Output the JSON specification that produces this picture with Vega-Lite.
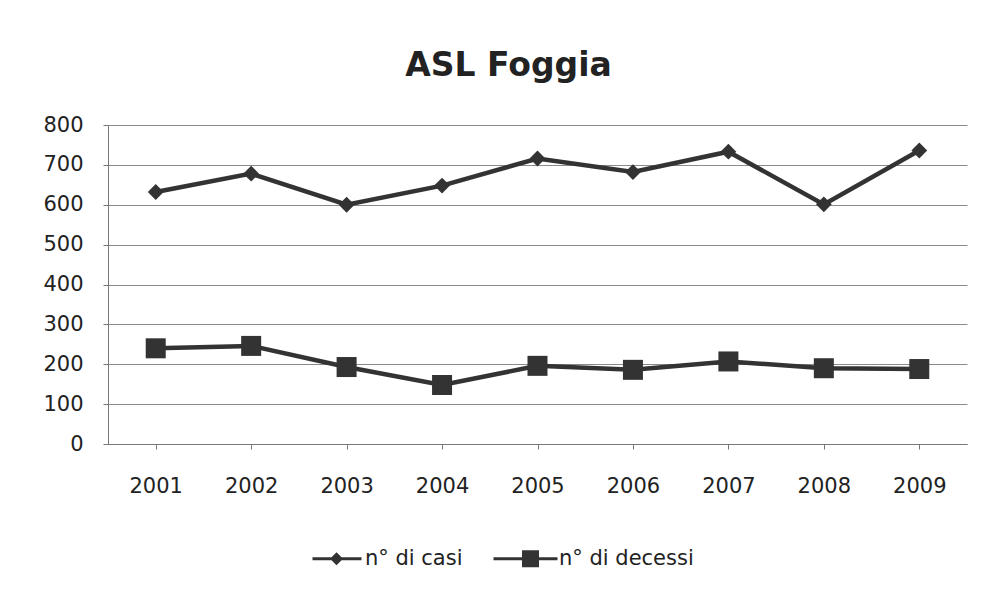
{
  "$schema": "https://vega.github.io/schema/vega-lite/v6.json",
  "width": 859,
  "height": 319,
  "autosize": "none",
  "padding": {"left": 108, "top": 125, "right": 18, "bottom": 155},
  "background": "white",
  "title": {
    "text": "ASL Foggia",
    "font": "DejaVu Sans",
    "fontSize": 33,
    "fontWeight": "bold",
    "color": "#222",
    "anchor": "middle",
    "dx": -29,
    "offset": 31
  },
  "config": {
    "view": {"stroke": null},
    "font": "DejaVu Sans",
    "axis": {
      "labelFont": "DejaVu Sans",
      "labelFontSize": 21,
      "labelColor": "#222",
      "domainColor": "#777",
      "tickColor": "#777",
      "gridColor": "#8a8a8a",
      "gridWidth": 1,
      "title": null
    },
    "legend": {"labelFont": "DejaVu Sans", "labelFontSize": 21, "labelColor": "#222"}
  },
  "data": {
    "values": [
      {"anno": "2001", "serie": "n° di casi", "valore": 632},
      {"anno": "2002", "serie": "n° di casi", "valore": 678},
      {"anno": "2003", "serie": "n° di casi", "valore": 600},
      {"anno": "2004", "serie": "n° di casi", "valore": 648},
      {"anno": "2005", "serie": "n° di casi", "valore": 716},
      {"anno": "2006", "serie": "n° di casi", "valore": 682},
      {"anno": "2007", "serie": "n° di casi", "valore": 733},
      {"anno": "2008", "serie": "n° di casi", "valore": 601},
      {"anno": "2009", "serie": "n° di casi", "valore": 736},
      {"anno": "2001", "serie": "n° di decessi", "valore": 240},
      {"anno": "2002", "serie": "n° di decessi", "valore": 246},
      {"anno": "2003", "serie": "n° di decessi", "valore": 193},
      {"anno": "2004", "serie": "n° di decessi", "valore": 148},
      {"anno": "2005", "serie": "n° di decessi", "valore": 196},
      {"anno": "2006", "serie": "n° di decessi", "valore": 186},
      {"anno": "2007", "serie": "n° di decessi", "valore": 207},
      {"anno": "2008", "serie": "n° di decessi", "valore": 190},
      {"anno": "2009", "serie": "n° di decessi", "valore": 188}
    ]
  },
  "encoding": {
    "x": {
      "field": "anno",
      "type": "ordinal",
      "scale": {"type": "point", "padding": 0.5},
      "axis": {"labelAngle": 0, "labelPadding": 26, "tickSize": 5, "grid": false}
    },
    "y": {
      "field": "valore",
      "type": "quantitative",
      "scale": {"domain": [0, 800]},
      "axis": {"values": [0, 100, 200, 300, 400, 500, 600, 700, 800], "tickSize": 5, "labelPadding": 20, "grid": true}
    }
  },
  "layer": [
    {
      "mark": {"type": "line", "color": "#333", "strokeWidth": 4.5},
      "encoding": {"detail": {"field": "serie"}}
    },
    {
      "mark": {"type": "point", "filled": true, "color": "#333", "opacity": 1},
      "encoding": {
        "shape": {
          "field": "serie",
          "type": "nominal",
          "scale": {"domain": ["n° di casi", "n° di decessi"], "range": ["diamond", "square"]},
          "legend": null
        },
        "size": {"condition": {"test": "datum.serie === 'n° di casi'", "value": 250}, "value": 400}
      }
    },
    {
      "transform": [{"filter": "datum.valore < 0"}],
      "mark": {"type": "point", "filled": true, "color": "#333", "opacity": 1},
      "encoding": {
        "shape": {
          "field": "serie",
          "type": "nominal",
          "scale": {
            "domain": ["n° di casi", "n° di decessi"],
            "range": [
              "M-2.4,-0.15H2.5V0.15H-2.4Z M0,-0.65L0.65,0L0,0.65L-0.65,0Z",
              "M-3.7,-0.15H2.7V0.15H-3.7Z M-0.85,-0.85H0.85V0.85H-0.85Z"
            ]
          },
          "legend": {
            "title": null,
            "orient": "none",
            "direction": "horizontal",
            "legendX": 218,
            "legendY": 423,
            "columnPadding": 30,
            "labelOffset": 18,
            "symbolSize": 400,
            "symbolStrokeWidth": 0,
            "symbolFillColor": "#333",
            "symbolOpacity": 1
          }
        }
      }
    }
  ],
  "resolve": {"scale": {"shape": "independent"}}
}
